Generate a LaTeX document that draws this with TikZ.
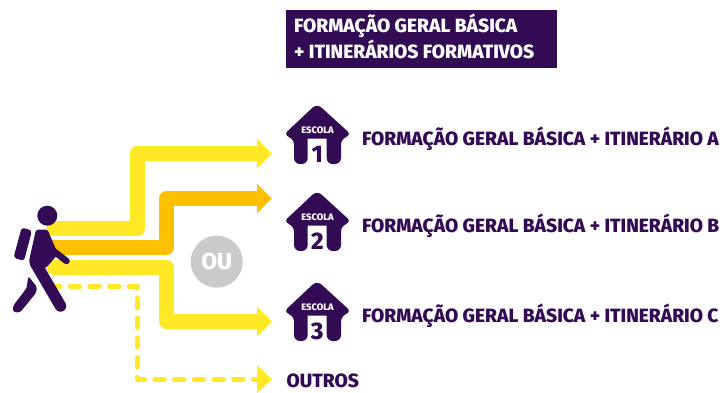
\documentclass[tikz,border=0pt]{standalone}
\usepackage{fontspec}
\setmainfont[BoldFont={Fira Sans ExtraBold}]{Fira Sans}
\usetikzlibrary{arrows.meta}

\definecolor{roxo}{HTML}{330A54}
\definecolor{amarelo}{HTML}{FFE926}
\definecolor{laranja}{HTML}{FFC000}
\definecolor{cinza}{HTML}{CCCAC8}

\tikzset{
	caminho/.style={line width=15pt, line join=round, line cap=round, -{Triangle[length=15pt,width=29pt]}},
	tracejado/.style={amarelo, line width=5pt, line join=round, line cap=round, dash pattern=on 9.5pt off 10.2pt},
	rotulo/.style={anchor=west, inner sep=0pt, text=roxo, font=\fontsize{19.2}{22}\selectfont\bfseries},
}

\newcommand{\drawEscola}[2]%
{
	\begin{scope}[shift={(0,#1)}]
	\fill[roxo] [rounded corners=6pt] (317,-2.5) [rounded corners=3.5pt] -- (284.5,28) -- (294,34.5) [rounded corners=6pt] -- (294,58) -- (307.7,58) [sharp corners] -- (307.7,32.5) -- (326.7,32.5) [rounded corners=6pt] -- (326.7,58) -- (341,58) [rounded corners=3.5pt] -- (341,34.5) -- (350.5,28) [rounded corners=6pt] -- cycle;% Roof and walls
	\node (escola#2) at (317.5,24) [text=white, inner sep=0pt, font=\fontsize{9.4}{10}\selectfont\bfseries] {ESCOLA};
	\node (numero#2) at (317.3,48) [text=roxo, inner sep=0pt, font=\fontsize{24}{25}\selectfont\bfseries] {#2};
	\end{scope}
}

\begin{document}
\begin{tikzpicture}[x=1pt,y=-1pt]
\useasboundingbox (0,0) rectangle (724,392);

% title
\node (titulo) at (286,10) [anchor=north west, fill=roxo, minimum width=271pt, minimum height=58pt, inner sep=0pt] {};
\node (titulo1) at (294,25.5) [anchor=west, inner sep=0pt, text=white, font=\fontsize{19.2}{22}\selectfont\bfseries] {FORMAÇÃO GERAL BÁSICA};
\node (titulo2) at (294,49.5) [anchor=west, inner sep=0pt, text=white, font=\fontsize{19.2}{22}\selectfont\bfseries] {+ ITINERÁRIOS FORMATIVOS};

% the schools
\foreach \n/\y/\t in {1/106/A,2/193/B,3/283/C}{
	\drawEscola{\y}{\n}
	\node (formacao\n) at (362,\y+33) [rotulo] {FORMAÇÃO GERAL BÁSICA + ITINERÁRIO \t};
}
\node (outros) at (286.5,381) [rotulo] {OUTROS};

\node (ou) at (216.7,261.7) [circle, fill=cinza, minimum size=52pt, inner sep=0pt, text=white, font=\fontsize{23}{25}\selectfont\bfseries] {OU};

% free ends
\coordinate (a0) at (54,228.5);
\coordinate (a1) at (272,153.5);
\coordinate (b0) at (54,247.5);
\coordinate (b1) at (272,198.5);
\coordinate (c0) at (54,267.5);
\coordinate (c1) at (272,321.5);
\coordinate (d0) at (50.5,286.7);
\coordinate (d1) at (257,379.3);
\coordinate (d2) at (272,379.3);

\draw[caminho,amarelo] (a0) -- (137.5,228.5) -- (137.5,153.5) -- (a1);
\draw[caminho,laranja] (b0) -- (166.5,247.5) -- (166.5,198.5) -- (b1);
\draw[caminho,amarelo] (c0) -- (166.5,267.5) -- (166.5,321.5) -- (c1);
\draw[tracejado] (d0) -- (137.3,286.7) -- (137.3,379.3) -- (d1);
\fill[amarelo] (257,365) -- (d2) -- (257,393) -- cycle;% head of the dashed line

% the walker
\fill[roxo] (47.3,215.7) circle (10);% Head
\fill[roxo, rounded corners=3pt] (21.7,227.5) -- (32,230.5) -- (24,261) -- (13.5,257.5) -- cycle;% Backpack
\fill[roxo, rounded corners=2.5pt] (36,229.5) -- (47.5,229.5) -- (58,254) -- (46,268) -- (31,268) -- (29,261) -- cycle;% Body
\draw[roxo, line width=6.5pt, line cap=round] (51,249) -- (66.5,261);% Arm
\draw[roxo, line width=11.5pt, line cap=round] (36,264) -- (60.5,306);% Front leg
\fill[roxo, rounded corners=2.5pt] (28.3,276) -- (37,287) -- (36,293) -- (20,312.5) -- (13,312) -- (13,306) -- (26.7,288) -- cycle;% Back leg

\end{tikzpicture}
\end{document}
